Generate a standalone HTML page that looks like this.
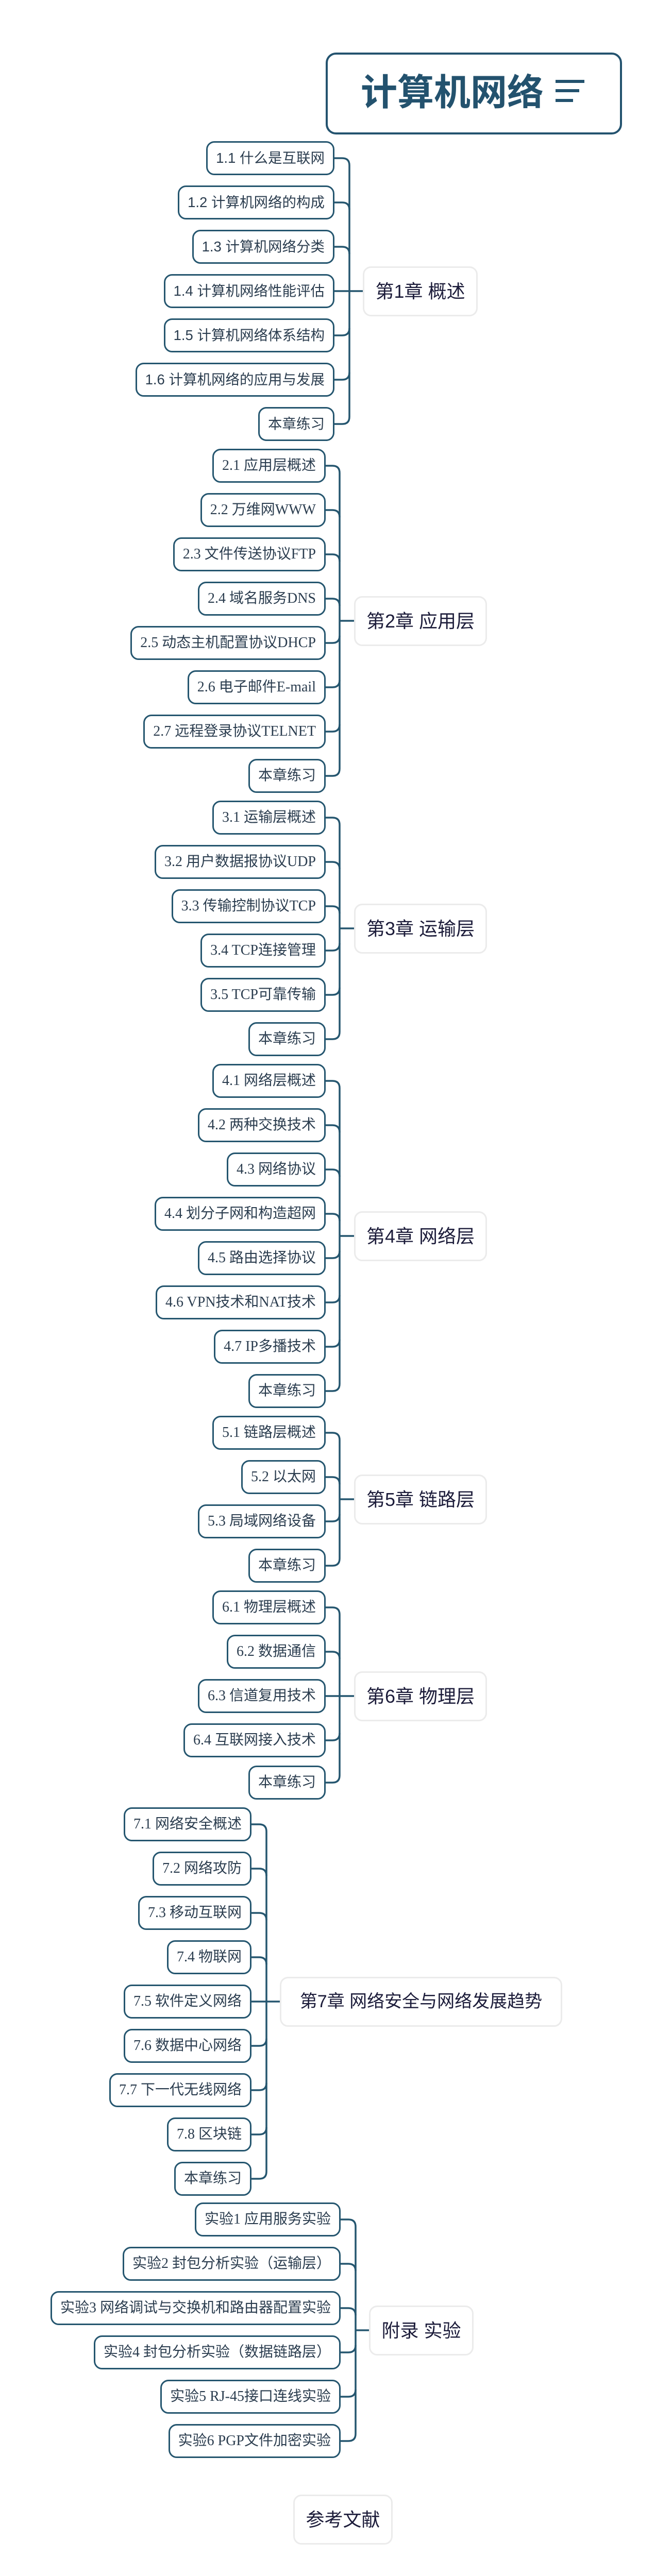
<!DOCTYPE html>
<html><head><meta charset="utf-8">
<style>
html{margin:0;padding:0;width:1304px;height:5042px;overflow:hidden;background:#fff;}
body{margin:0;padding:0;background:#fff;width:1304px;height:5042px;position:relative;overflow:hidden;}
.i{position:absolute;height:66px;box-sizing:border-box;border:3.5px solid #25566f;border-radius:16px;padding:0 16px;line-height:59px;font-size:28px;color:#2b3d4f;background:#fff;white-space:nowrap;font-family:"Liberation Serif","Noto Sans CJK SC",serif;}
.s{font-family:"Liberation Sans","Noto Sans CJK SC",sans-serif;font-size:27.5px;}
.a{font-size:28px;}
.c{position:absolute;height:97px;box-sizing:border-box;border:3px solid #ebebeb;border-radius:16px;line-height:91px;text-align:center;font-size:36px;color:#1c1c3a;background:#fff;white-space:nowrap;font-family:"Liberation Sans","Noto Sans CJK SC",sans-serif;}
svg{position:absolute;left:0;top:0;}
</style></head><body>
<svg width="1304" height="5042" fill="none" stroke="#25566f" stroke-width="3.5">
<path d="M649 307H664Q678 307 678 321V809Q678 823 664 823H649"/>
<path d="M649 393H664Q678 393 678 407M649 479H664Q678 479 678 493M649 651H664Q678 651 678 637M649 737H664Q678 737 678 723M649 565H704"/>
<path d="M632 904H645Q659 904 659 918V1492Q659 1506 645 1506H632"/>
<path d="M632 990H645Q659 990 659 1004M632 1076H645Q659 1076 659 1090M632 1162H645Q659 1162 659 1176M632 1248H645Q659 1248 659 1234M632 1334H645Q659 1334 659 1320M632 1420H645Q659 1420 659 1406M659 1205H687"/>
<path d="M632 1587H645Q659 1587 659 1601V2003Q659 2017 645 2017H632"/>
<path d="M632 1673H645Q659 1673 659 1687M632 1759H645Q659 1759 659 1773M632 1845H645Q659 1845 659 1831M632 1931H645Q659 1931 659 1917M659 1802H687"/>
<path d="M632 2098H645Q659 2098 659 2112V2686Q659 2700 645 2700H632"/>
<path d="M632 2184H645Q659 2184 659 2198M632 2270H645Q659 2270 659 2284M632 2356H645Q659 2356 659 2370M632 2442H645Q659 2442 659 2428M632 2528H645Q659 2528 659 2514M632 2614H645Q659 2614 659 2600M659 2399H687"/>
<path d="M632 2781H645Q659 2781 659 2795V3025Q659 3039 645 3039H632"/>
<path d="M632 2867H645Q659 2867 659 2881M632 2953H645Q659 2953 659 2939M659 2910H687"/>
<path d="M632 3120H645Q659 3120 659 3134V3446Q659 3460 645 3460H632"/>
<path d="M632 3206H645Q659 3206 659 3220M632 3378H645Q659 3378 659 3364M632 3292H687"/>
<g transform="translate(0,-4)">
<path d="M488 3545H503Q517 3545 517 3559V4219Q517 4233 503 4233H488"/>
<path d="M488 3631H503Q517 3631 517 3645M488 3717H503Q517 3717 517 3731M488 3803H503Q517 3803 517 3817M488 3975H503Q517 3975 517 3961M488 4061H503Q517 4061 517 4047M488 4147H503Q517 4147 517 4133M488 3889H543"/>
</g>
<g transform="translate(0,-6)">
<path d="M661 4314H676Q690 4314 690 4328V4730Q690 4744 676 4744H661"/>
<path d="M661 4400H676Q690 4400 690 4414M661 4486H676Q690 4486 690 4500M661 4572H676Q690 4572 690 4558M661 4658H676Q690 4658 690 4644M690 4529H716"/>
</g>
</svg>

<div style="position:absolute;left:632px;top:102px;width:575px;height:159px;box-sizing:border-box;border:4px solid #24536f;border-radius:20px;background:#fff;"></div>
<div style="position:absolute;left:700px;top:138px;font-family:'Liberation Sans','Noto Sans CJK SC',sans-serif;font-weight:bold;font-size:71px;line-height:86px;color:#23526e;white-space:nowrap;">计算机网络</div>
<div style="position:absolute;left:1078px;top:155px;width:56px;height:6px;background:#23526e;"></div>
<div style="position:absolute;left:1078px;top:173px;width:46px;height:6px;background:#23526e;"></div>
<div style="position:absolute;left:1078px;top:192px;width:34px;height:6px;background:#23526e;"></div>

<div class="i s" style="top:274px;right:655px">1.1 什么是互联网</div>
<div class="i s" style="top:360px;right:655px">1.2 计算机网络的构成</div>
<div class="i s" style="top:446px;right:655px">1.3 计算机网络分类</div>
<div class="i s" style="top:532px;right:655px">1.4 计算机网络性能评估</div>
<div class="i s" style="top:618px;right:655px">1.5 计算机网络体系结构</div>
<div class="i s" style="top:704px;right:655px">1.6 计算机网络的应用与发展</div>
<div class="i s" style="top:790px;right:655px">本章练习</div>
<div class="c" style="left:704px;top:517px;width:223px;">第1章 概述</div>

<div class="i" style="top:871px;right:672px">2.1 应用层概述</div>
<div class="i" style="top:957px;right:672px">2.2 万维网WWW</div>
<div class="i" style="top:1043px;right:672px">2.3 文件传送协议FTP</div>
<div class="i" style="top:1129px;right:672px">2.4 域名服务DNS</div>
<div class="i" style="top:1215px;right:672px">2.5 动态主机配置协议DHCP</div>
<div class="i" style="top:1301px;right:672px">2.6 电子邮件E-mail</div>
<div class="i" style="top:1387px;right:672px">2.7 远程登录协议TELNET</div>
<div class="i" style="top:1473px;right:672px">本章练习</div>
<div class="c" style="left:687px;top:1157px;width:258px;">第2章 应用层</div>

<div class="i" style="top:1554px;right:672px">3.1 运输层概述</div>
<div class="i" style="top:1640px;right:672px">3.2 用户数据报协议UDP</div>
<div class="i" style="top:1726px;right:672px">3.3 传输控制协议TCP</div>
<div class="i" style="top:1812px;right:672px">3.4 TCP连接管理</div>
<div class="i" style="top:1898px;right:672px">3.5 TCP可靠传输</div>
<div class="i" style="top:1984px;right:672px">本章练习</div>
<div class="c" style="left:687px;top:1754px;width:258px;">第3章 运输层</div>

<div class="i" style="top:2065px;right:672px">4.1 网络层概述</div>
<div class="i" style="top:2151px;right:672px">4.2 两种交换技术</div>
<div class="i" style="top:2237px;right:672px">4.3 网络协议</div>
<div class="i" style="top:2323px;right:672px">4.4 划分子网和构造超网</div>
<div class="i" style="top:2409px;right:672px">4.5 路由选择协议</div>
<div class="i" style="top:2495px;right:672px">4.6 VPN技术和NAT技术</div>
<div class="i" style="top:2581px;right:672px">4.7 IP多播技术</div>
<div class="i" style="top:2667px;right:672px">本章练习</div>
<div class="c" style="left:687px;top:2351px;width:258px;">第4章 网络层</div>

<div class="i" style="top:2748px;right:672px">5.1 链路层概述</div>
<div class="i" style="top:2834px;right:672px">5.2 以太网</div>
<div class="i" style="top:2920px;right:672px">5.3 局域网络设备</div>
<div class="i" style="top:3006px;right:672px">本章练习</div>
<div class="c" style="left:687px;top:2862px;width:258px;">第5章 链路层</div>

<div class="i" style="top:3087px;right:672px">6.1 物理层概述</div>
<div class="i" style="top:3173px;right:672px">6.2 数据通信</div>
<div class="i" style="top:3259px;right:672px">6.3 信道复用技术</div>
<div class="i" style="top:3345px;right:672px">6.4 互联网接入技术</div>
<div class="i" style="top:3427px;right:672px">本章练习</div>
<div class="c" style="left:687px;top:3244px;width:258px;">第6章 物理层</div>

<div class="i" style="top:3508px;right:816px">7.1 网络安全概述</div>
<div class="i" style="top:3594px;right:816px">7.2 网络攻防</div>
<div class="i" style="top:3680px;right:816px">7.3 移动互联网</div>
<div class="i" style="top:3766px;right:816px">7.4 物联网</div>
<div class="i" style="top:3852px;right:816px">7.5 软件定义网络</div>
<div class="i" style="top:3938px;right:816px">7.6 数据中心网络</div>
<div class="i" style="top:4024px;right:816px">7.7 下一代无线网络</div>
<div class="i" style="top:4110px;right:816px">7.8 区块链</div>
<div class="i" style="top:4196px;right:816px">本章练习</div>
<div class="c" style="left:543px;top:3837px;width:548px;font-size:34px;">第7章 网络安全与网络发展趋势</div>

<div class="i a" style="top:4275px;right:643px">实验1 应用服务实验</div>
<div class="i a" style="top:4361px;right:643px">实验2 封包分析实验（运输层）</div>
<div class="i a" style="top:4447px;right:643px">实验3 网络调试与交换机和路由器配置实验</div>
<div class="i a" style="top:4533px;right:643px">实验4 封包分析实验（数据链路层）</div>
<div class="i a" style="top:4619px;right:643px">实验5 RJ-45接口连线实验</div>
<div class="i a" style="top:4705px;right:643px">实验6 PGP文件加密实验</div>
<div class="c" style="left:716px;top:4475px;width:203px;">附录 实验</div>

<div class="c" style="left:569px;top:4842px;width:193px;">参考文献</div>
</body></html>
